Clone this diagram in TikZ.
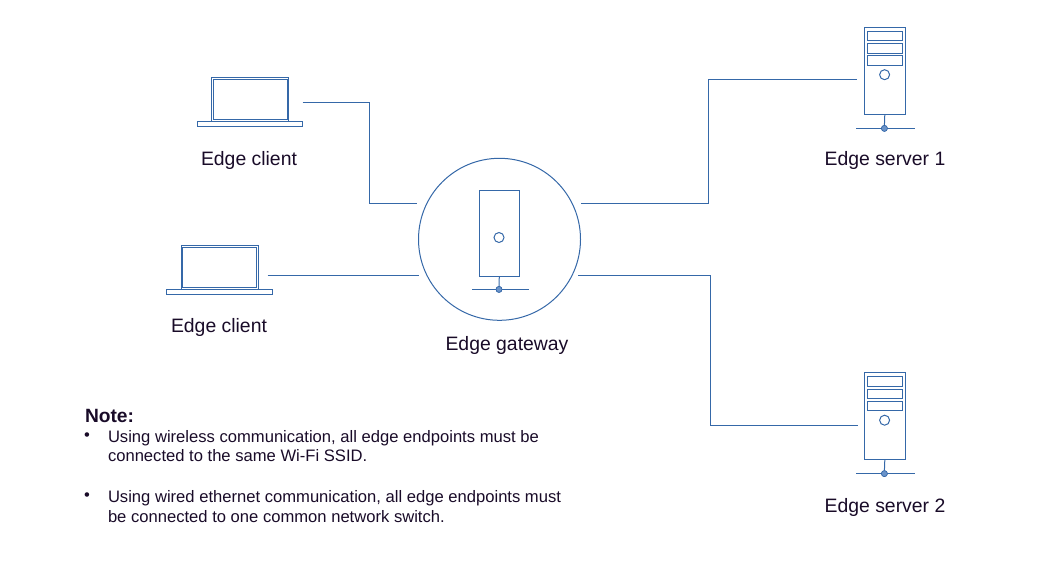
\documentclass[tikz,border=0pt]{standalone}
\usepackage{fontspec}
\setmainfont{Liberation Sans}
\usepackage{xcolor}
\usetikzlibrary{positioning,calc}
\definecolor{linkblue}{HTML}{3568A8}
\definecolor{dotblue}{HTML}{6A93C9}
\definecolor{inktext}{HTML}{190B28}

\begin{document}
\begin{tikzpicture}[
            x=1pt, y=-1pt,
            every node/.style={inner sep=0pt, outer sep=0pt, text=inktext},
            part/.style={rectangle, draw=linkblue, line width=1pt},
            hole/.style={circle, draw=linkblue, line width=1pt, minimum size=10pt},
            led/.style={circle, draw=linkblue, fill=dotblue, line width=0.6pt, minimum size=6pt},
            laptopscreen/.style={part, minimum width=76.6pt, minimum height=43.7pt},
            laptopinner/.style={part, minimum width=73.7pt, minimum height=40.4pt},
            laptopbase/.style={part, minimum width=105.4pt, minimum height=5.4pt},
            tower/.style={part, minimum width=41pt, minimum height=87pt},
            slot/.style={part, minimum width=35.4pt, minimum height=9.6pt},
            wire/.style={draw=linkblue, line width=1pt},
            caption/.style={font=\fontsize{19.4}{23}\selectfont},
            notetext/.style={font=\fontsize{16.6}{19.9}\selectfont, align=left, anchor=north west}
        ]
            \useasboundingbox (0,0) rectangle (1056,576);

            % laptops
            \node[laptopscreen] (screenA) at (250,99.2) {};
            \node[laptopinner] (innerA) at (250.2,99.5) {};
            \node[laptopbase] (baseA) at (250,124) {};
            \node[caption] (clientA) at (249,160) {Edge client};

            \node[laptopscreen] (screenB) at (220.2,267.2) {};
            \node[laptopinner] (innerB) at (219.7,267.5) {};
            \node[laptopbase] (baseB) at (219.5,292) {};
            \node[caption] (clientB) at (219,327) {Edge client};

            % gateway
            \node[circle, draw=linkblue, line width=1pt, minimum size=162pt] (ring) at (499.5,239.3) {};
            \node[part, minimum width=40pt, minimum height=86pt] (gatewaybox) at (499.3,233.3) {};
            \node[hole] (gatewayhole) at (499,237.5) {};
            \coordinate (gatewaybusL) at (472,289.4);
            \coordinate (gatewaybusR) at (528.5,289.4);
            \node[led] (gatewayled) at (499,289.4) {};
            \draw[wire] (gatewaybusL) -- (gatewaybusR);
            \draw[wire] (gatewaybox.south) -- (gatewayled.north);
            \node[led] at (gatewayled) {};
            \node[caption] (gatewaytext) at (507,345) {Edge gateway};

            % server 1
            \node[tower] (towerA) at (884.8,70.8) {};
            \node[slot] (slotAa) at (885,36) {};
            \node[slot] (slotAb) at (885,48.3) {};
            \node[slot] (slotAc) at (885,60.3) {};
            \node[hole] (holeA) at (884.6,74.7) {};
            \coordinate (busAL) at (856,128.4);
            \coordinate (busAR) at (915,128.4);
            \node[led] (ledA) at (884.4,128.4) {};
            \draw[wire] (busAL) -- (busAR);
            \draw[wire] (towerA.south) -- (ledA.north);
            \node[led] at (ledA) {};
            \node[caption] (serverA) at (885,160) {Edge server 1};

            % server 2
            \node[tower] (towerB) at (884.8,416.3) {};
            \node[slot] (slotBa) at (885,381.5) {};
            \node[slot] (slotBb) at (885,393.8) {};
            \node[slot] (slotBc) at (885,405.8) {};
            \node[hole] (holeB) at (884.6,420.2) {};
            \coordinate (busBL) at (856,473.6);
            \coordinate (busBR) at (915,473.6);
            \node[led] (ledB) at (884.4,473.6) {};
            \draw[wire] (busBL) -- (busBR);
            \draw[wire] (towerB.south) -- (ledB.north);
            \node[led] at (ledB) {};
            \node[caption] (serverB) at (885,507) {Edge server 2};

            % links
            \coordinate (portclientA) at (302.5,102.5);
            \coordinate (portclientB) at (267.5,275.5);
            \coordinate (ringinA) at (417,203.5);
            \coordinate (ringinB) at (419,275.5);
            \coordinate (ringoutA) at (581,203.5);
            \coordinate (ringoutB) at (578,275.5);
            \coordinate (portserverA) at (857,79.5);
            \coordinate (portserverB) at (858,425.5);
            \draw[wire] (portclientA) -| (369.5,150) |- (ringinA);
            \draw[wire] (portclientB) -- (ringinB);
            \draw[wire] (ringoutA) -| (708.5,150) |- (portserverA);
            \draw[wire] (ringoutB) -| (710.5,350) |- (portserverB);

            % note
            \node[notetext, anchor=west, font=\bfseries\fontsize{19.2}{23}\selectfont] (notehead) at (85,415.5) {Note:};
            \node[notetext] (dotA) at (84,433) {•};
            \node[notetext] (noteA) at (108,430) {Using wireless communication, all edge endpoints must be\\connected to the same Wi-Fi SSID.};
            \node[notetext] (dotB) at (84,493) {•};
            \node[notetext] (noteB) at (108,490.5) {Using wired ethernet communication, all edge endpoints must\\be connected to one common network switch.};
        \end{tikzpicture}
\end{document}
